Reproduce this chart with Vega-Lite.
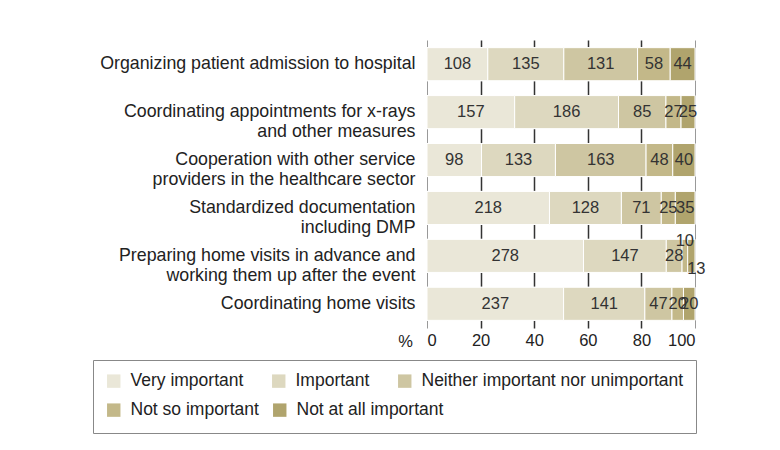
{
  "$schema": "https://vega.github.io/schema/vega-lite/v6.json",
  "width": 268,
  "height": 288,
  "autosize": "none",
  "padding": {"left": 427, "top": 40, "right": 85, "bottom": 122},
  "background": "white",
  "config": {"view": {"stroke": null}, "font": "Liberation Sans"},
  "data": {
    "values": [
      {"item": "Organizing patient admission to hospital", "level": "Very important", "rank": 1, "n": 108},
      {"item": "Organizing patient admission to hospital", "level": "Important", "rank": 2, "n": 135},
      {"item": "Organizing patient admission to hospital", "level": "Neither important nor unimportant", "rank": 3, "n": 131},
      {"item": "Organizing patient admission to hospital", "level": "Not so important", "rank": 4, "n": 58},
      {"item": "Organizing patient admission to hospital", "level": "Not at all important", "rank": 5, "n": 44},
      {"item": "Coordinating appointments for x-rays |and other measures", "level": "Very important", "rank": 1, "n": 157},
      {"item": "Coordinating appointments for x-rays |and other measures", "level": "Important", "rank": 2, "n": 186},
      {"item": "Coordinating appointments for x-rays |and other measures", "level": "Neither important nor unimportant", "rank": 3, "n": 85},
      {"item": "Coordinating appointments for x-rays |and other measures", "level": "Not so important", "rank": 4, "n": 27},
      {"item": "Coordinating appointments for x-rays |and other measures", "level": "Not at all important", "rank": 5, "n": 25},
      {"item": "Cooperation with other service|providers in the healthcare sector", "level": "Very important", "rank": 1, "n": 98},
      {"item": "Cooperation with other service|providers in the healthcare sector", "level": "Important", "rank": 2, "n": 133},
      {"item": "Cooperation with other service|providers in the healthcare sector", "level": "Neither important nor unimportant", "rank": 3, "n": 163},
      {"item": "Cooperation with other service|providers in the healthcare sector", "level": "Not so important", "rank": 4, "n": 48},
      {"item": "Cooperation with other service|providers in the healthcare sector", "level": "Not at all important", "rank": 5, "n": 40},
      {"item": "Standardized documentation |including DMP", "level": "Very important", "rank": 1, "n": 218},
      {"item": "Standardized documentation |including DMP", "level": "Important", "rank": 2, "n": 128},
      {"item": "Standardized documentation |including DMP", "level": "Neither important nor unimportant", "rank": 3, "n": 71},
      {"item": "Standardized documentation |including DMP", "level": "Not so important", "rank": 4, "n": 25},
      {"item": "Standardized documentation |including DMP", "level": "Not at all important", "rank": 5, "n": 35},
      {"item": "Preparing home visits in advance and |working them up after the event", "level": "Very important", "rank": 1, "n": 278},
      {"item": "Preparing home visits in advance and |working them up after the event", "level": "Important", "rank": 2, "n": 147},
      {"item": "Preparing home visits in advance and |working them up after the event", "level": "Neither important nor unimportant", "rank": 3, "n": 28},
      {"item": "Preparing home visits in advance and |working them up after the event", "level": "Not so important", "rank": 4, "n": 10},
      {"item": "Preparing home visits in advance and |working them up after the event", "level": "Not at all important", "rank": 5, "n": 13},
      {"item": "Coordinating home visits", "level": "Very important", "rank": 1, "n": 237},
      {"item": "Coordinating home visits", "level": "Important", "rank": 2, "n": 141},
      {"item": "Coordinating home visits", "level": "Neither important nor unimportant", "rank": 3, "n": 47},
      {"item": "Coordinating home visits", "level": "Not so important", "rank": 4, "n": 20},
      {"item": "Coordinating home visits", "level": "Not at all important", "rank": 5, "n": 20}
    ]
  },
  "transform": [
    {"stack": "n", "groupby": ["item"], "sort": [{"field": "rank", "order": "ascending"}], "offset": "normalize", "as": ["x0", "x1"]},
    {"calculate": "(datum.x0 + datum.x1) / 2", "as": "xm"}
  ],
  "encoding": {
    "y": {
      "field": "item",
      "type": "nominal",
      "sort": null,
      "scale": {"paddingInner": 0.31, "paddingOuter": 0.16},
      "axis": {
        "title": null,
        "domain": false,
        "ticks": false,
        "labelFontSize": 17.8,
        "labelPadding": 12,
        "labelColor": "#222",
        "labelLimit": 0,
        "labelLineHeight": 20,
        "labelExpr": "split(datum.label, '|')"
      }
    }
  },
  "resolve": {"scale": {"color": "independent"}, "legend": {"color": "independent"}},
  "layer": [
    {
      "mark": {"type": "bar", "stroke": "white", "strokeWidth": 1},
      "encoding": {
        "x": {
          "field": "x0",
          "type": "quantitative",
          "scale": {"domain": [0, 1]},
          "axis": {
            "values": [0, 0.2, 0.4, 0.6, 0.8, 1],
            "labelExpr": "round(datum.value * 100)",
            "domain": false,
            "ticks": false,
            "labelFontSize": 16.5,
            "labelColor": "#222",
            "labelPadding": 4,
            "grid": true,
            "gridColor": {"condition": {"test": "datum.value == 0 || datum.value == 1", "value": "#999999"}, "value": "#333333"},
            "gridWidth": {"condition": {"test": "datum.value == 0 || datum.value == 1", "value": 1}, "value": 1.5},
            "title": "%",
            "titleFontSize": 16.5,
            "titleFontWeight": "normal",
            "titleColor": "#222",
            "titleX": -22,
            "titleY": 13,
            "titleBaseline": "middle",
            "titleAlign": "center"
          }
        },
        "x2": {"field": "x1"},
        "color": {
          "field": "level",
          "type": "nominal",
          "scale": {
            "domain": ["Very important", "Important", "Neither important nor unimportant", "Not so important", "Not at all important"],
            "range": ["#eae7d8", "#ddd8bf", "#cec6a2", "#c3b889", "#b0a46d"]
          },
          "legend": {
            "values": ["Very important", "Important", "Neither important nor unimportant"],
            "title": " ",
            "titleOrient": "bottom",
            "titleFontSize": 17.5,
            "titlePadding": 13,
            "orient": "none",
            "legendX": -334,
            "legendY": 320,
            "direction": "horizontal",
            "symbolType": "square",
            "symbolSize": 180,
            "symbolStrokeWidth": 0,
            "labelFontSize": 17.5,
            "labelColor": "#222",
            "labelOffset": 8,
            "labelLimit": 0,
            "columnPadding": 26,
            "padding": 12,
            "strokeColor": "#888888",
            "fillColor": "white"
          }
        }
      }
    },
    {
      "mark": {"type": "bar", "stroke": "white", "strokeWidth": 1},
      "encoding": {
        "x": {"field": "x0", "type": "quantitative"},
        "x2": {"field": "x1"},
        "color": {
          "field": "level",
          "type": "nominal",
          "scale": {
            "domain": ["Very important", "Important", "Neither important nor unimportant", "Not so important", "Not at all important"],
            "range": ["#eae7d8", "#ddd8bf", "#cec6a2", "#c3b889", "#b0a46d"]
          },
          "legend": {
            "values": ["Not so important", "Not at all important"],
            "title": null,
            "orient": "none",
            "legendX": -334,
            "legendY": 349,
            "direction": "horizontal",
            "symbolType": "square",
            "symbolSize": 180,
            "symbolStrokeWidth": 0,
            "labelFontSize": 17.5,
            "labelColor": "#222",
            "labelOffset": 8,
            "labelLimit": 0,
            "columnPadding": 12,
            "padding": 12
          }
        }
      }
    },
    {
      "transform": [{"filter": "!(indexof(datum.item, 'Preparing') == 0 && datum.rank >= 4)"}],
      "mark": {"type": "text", "fontSize": 16.5, "color": "#333", "baseline": "middle"},
      "encoding": {
        "x": {"field": "xm", "type": "quantitative"},
        "text": {"field": "n", "type": "quantitative"}
      }
    },
    {
      "transform": [{"filter": "indexof(datum.item, 'Preparing') == 0 && datum.rank == 4"}],
      "mark": {"type": "text", "fontSize": 16.5, "color": "#333", "baseline": "middle", "dy": -15},
      "encoding": {
        "x": {"field": "xm", "type": "quantitative"},
        "text": {"field": "n", "type": "quantitative"}
      }
    },
    {
      "transform": [{"filter": "indexof(datum.item, 'Preparing') == 0 && datum.rank == 5"}],
      "mark": {"type": "text", "fontSize": 16.5, "color": "#333", "baseline": "middle", "dy": 13, "dx": 5},
      "encoding": {
        "x": {"field": "xm", "type": "quantitative"},
        "text": {"field": "n", "type": "quantitative"}
      }
    }
  ]
}
